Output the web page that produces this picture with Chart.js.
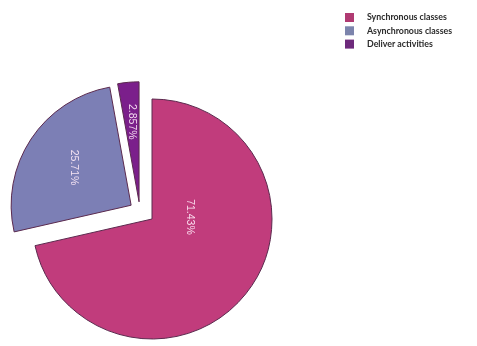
<!DOCTYPE html>
<html>
<head>
<meta charset="utf-8">
<script src="https://cdn.jsdelivr.net/npm/chart.js@4.4.1/dist/chart.umd.min.js"></script>
<style>
  html, body { margin: 0; padding: 0; background: #ffffff; }
  #wrap { width: 477px; height: 346px; }
</style>
</head>
<body>
<div id="wrap"><canvas id="chart" width="477" height="346"></canvas></div>
<script>
// Share of teaching time by activity type (percent)
const categories = ['Synchronous classes', 'Asynchronous classes', 'Deliver activities'];
const shares = [71.43, 25.71, 2.857];
const sliceColors = ['#c13c7c', '#7c7fb5', '#7b1f8b'];
const legendColors = ['#b03a72', '#7c84ac', '#6e2a7c'];

const DEG = Math.PI / 180;

// Pulls selected slices away from the centre. A null angle means "along the slice's mid angle";
// otherwise the angle is measured clockwise from 12 o'clock.
const explodePlugin = {
  id: 'explode',
  afterDatasetUpdate(chart, args, opts) {
    const arcs = args.meta.data;
    arcs.forEach((arc, i) => {
      const d = (opts.distance || [])[i] || 0;
      if (!d) return;
      const a = (opts.angle || [])[i];
      const ang = (a === null || a === undefined) ? (arc.startAngle + arc.endAngle) / 2 : (a - 90) * DEG;
      arc.x += Math.cos(ang) * d;
      arc.y += Math.sin(ang) * d;
    });
  }
};

// Percentage labels written inside each slice, turned a quarter turn clockwise.
const sliceLabelPlugin = {
  id: 'sliceLabels',
  afterDatasetsDraw(chart, args, opts) {
    const ctx = chart.ctx;
    const meta = chart.getDatasetMeta(0);
    const values = chart.data.datasets[0].data;
    meta.data.forEach((arc, i) => {
      const mid = (arc.startAngle + arc.endAngle) / 2 + (opts.shift[i] || 0) * DEG;
      const r = arc.outerRadius * opts.depth[i];
      const x = arc.x + Math.cos(mid) * r;
      const y = arc.y + Math.sin(mid) * r;
      ctx.save();
      ctx.translate(x, y);
      ctx.rotate(Math.PI / 2);
      ctx.font = opts.font;
      ctx.fillStyle = opts.color;
      ctx.textAlign = 'center';
      ctx.textBaseline = 'middle';
      ctx.fillText(values[i] + '%', 0, 0);
      ctx.restore();
    });
  }
};

// Legend block in the top-right corner.
const sideLegendPlugin = {
  id: 'sideLegend',
  afterDraw(chart, args, opts) {
    const ctx = chart.ctx;
    ctx.save();
    ctx.font = opts.font;
    ctx.textBaseline = 'middle';
    chart.data.labels.forEach((label, i) => {
      const cy = opts.top + i * opts.rowHeight;
      ctx.fillStyle = legendColors[i];
      ctx.fillRect(opts.left, cy - opts.box / 2, opts.box, opts.box);
      ctx.fillStyle = opts.color;
      ctx.fillText(label, opts.textLeft, cy);
    });
    ctx.restore();
  }
};

new Chart(document.getElementById('chart'), {
  type: 'pie',
  data: {
    labels: categories,
    datasets: [{
      data: shares,
      backgroundColor: sliceColors,
      borderColor: '#5b2a4e',
      borderWidth: 1,
      radius: 120,
      clip: false
    }]
  },
  options: {
    responsive: false,
    animation: false,
    events: [],
    layout: { padding: { left: 0, right: 173, top: 92, bottom: 0 } },
    plugins: {
      legend: { display: false },
      tooltip: { enabled: false },
      explode: { distance: [0, 25, 21.5], angle: [null, null, 323] },
      sliceLabels: {
        shift: [-41.6, 0, 0],
        depth: [0.32, 0.57, 0.67],
        font: '10.5px "Liberation Sans", Arial, sans-serif',
        color: 'rgba(255, 236, 248, 0.92)'
      },
      sideLegend: {
        left: 345, top: 17.5, rowHeight: 13.3, box: 9, textLeft: 367,
        font: 'bold 8.8px Lato, "Open Sans", sans-serif',
        color: '#2a2a2a'
      }
    }
  },
  plugins: [explodePlugin, sliceLabelPlugin, sideLegendPlugin]
});
</script>
</body>
</html>
